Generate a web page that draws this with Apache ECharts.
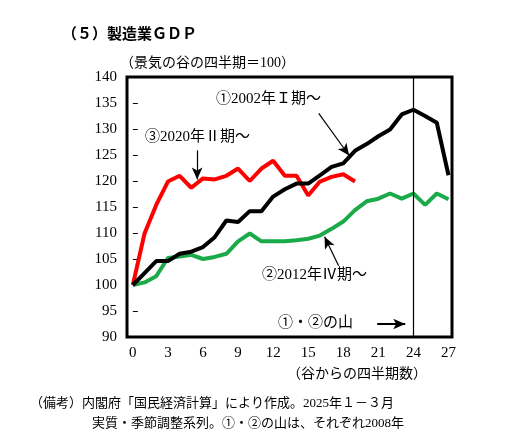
<!DOCTYPE html>
<html>
<head>
<meta charset="UTF-8">
<script src="https://cdn.jsdelivr.net/npm/echarts@6/dist/echarts.min.js"></script>
</head>
<body style="margin:0">
<div id="main" style="width:532px;height:434px;"></div>
<script type="text/javascript">
var quarters = [];
for (var q = 0; q <= 27; q++) quarters.push(q);
var s2002 = [100, 102.3, 104.6, 104.6, 106, 106.4, 107.3, 109.2, 112.4, 112.1, 114.2, 114.2, 117, 118.4, 119.5, 119.5, 121.1, 122.7, 123.4, 125.8, 127.1, 128.6, 129.9, 132.8, 133.7, 132.5, 131.2, 121.1];
var s2012 = [100, 100.5, 101.7, 105.2, 105.5, 105.8, 105, 105.4, 106, 108.4, 109.9, 108.4, 108.4, 108.4, 108.6, 108.9, 109.5, 110.8, 112.2, 114.4, 116.1, 116.6, 117.6, 116.6, 117.6, 115.4, 117.6, 116.5];
var s2020 = [100, 109.9, 115.4, 119.9, 121, 118.7, 120.5, 120.3, 121, 122.4, 120, 122.4, 123.9, 121, 121, 117.2, 119.9, 120.8, 121.3, 119.9];
var xTicks = [0, 3, 6, 9, 12, 15, 18, 21, 24, 27];

function pairs(arr) { return arr.map(function (v, i) { return [quarters[i], v]; }); }
var jp = '"Noto Sans CJK JP"';
var serif = '"Liberation Serif", ' + jp;

var myChart = echarts.init(document.getElementById('main'));
myChart.setOption({
    animation: false,
    grid: { left: 127, right: 80, top: 77, bottom: 97, show: true, borderColor: '#000', borderWidth: 3, backgroundColor: 'transparent' },
    xAxis: {
        type: 'value', min: -0.5, max: 27.3, interval: 3,
        axisLine: { show: false }, axisTick: { show: false }, splitLine: { show: false },
        axisLabel: {
            color: '#000', fontFamily: serif, fontSize: 15, margin: 9,
            customValues: xTicks,
            formatter: function (v) { return xTicks.indexOf(v) >= 0 ? v : ''; }
        }
    },
    yAxis: {
        type: 'value', min: 90, max: 140, interval: 5,
        axisLine: { show: false }, splitLine: { show: false },
        axisTick: { show: true, inside: true, length: 5, lineStyle: { color: '#000' } },
        axisLabel: { color: '#000', fontFamily: serif, fontSize: 15, margin: 10 }
    },
    graphic: [
        { type: 'text', left: 62, top: 26, style: { text: '（５）製造業ＧＤＰ', font: 'bold 15px ' + jp, fill: '#000' } },
        { type: 'text', left: 120, top: 56, style: { text: '（景気の谷の四半期＝100）', font: '14px ' + serif, fill: '#000' } },
        { type: 'text', left: 216, top: 92, style: { text: '①2002年Ｉ期～', font: '15px ' + serif, fill: '#000' } },
        { type: 'text', left: 145, top: 130, style: { text: '③2020年Ⅱ期～', font: '15px ' + serif, fill: '#000' } },
        { type: 'text', left: 262, top: 268, style: { text: '②2012年Ⅳ期～', font: '15px ' + serif, fill: '#000' } },
        { type: 'text', left: 278, top: 316, style: { text: '①・②の山', font: '15px ' + serif, fill: '#000' } },
        { type: 'text', left: 287, top: 367, style: { text: '（谷からの四半期数）', font: '14px ' + serif, fill: '#000' } },
        { type: 'text', left: 30, top: 397, style: { text: '（備考）内閣府「国民経済計算」により作成。2025年１－３月', font: '13px ' + serif, fill: '#000' } },
        { type: 'text', left: 92, top: 417, style: { text: '実質・季節調整系列。①・②の山は、それぞれ2008年', font: '13px ' + serif, fill: '#000' } }
    ],
    series: [
        { type: 'line', data: pairs(s2012), symbol: 'none', lineStyle: { color: '#1aaa4a', width: 4 } },
        { type: 'line', data: pairs(s2020), symbol: 'none', lineStyle: { color: '#ff0000', width: 4 } },
        { type: 'line', data: pairs(s2002), symbol: 'none', lineStyle: { color: '#000', width: 4 } },
        {
            type: 'line', data: [], silent: true,
            markLine: {
                silent: true, symbol: ['none', 'arrow'], symbolSize: [8, 12], label: { show: false },
                lineStyle: { color: '#000', width: 1.2, type: 'solid' },
                data: [
                    [{ coord: [15.9, 133] }, { coord: [18.5, 124.9] }],
                    [{ coord: [5.5, 125.9] }, { coord: [5.5, 120.3] }],
                    [{ coord: [17.6, 103.7] }, { coord: [16.4, 109.3] }],
                    [{ coord: [20.9, 92.5], lineStyle: { width: 2 } }, { coord: [23.3, 92.5] }],
                    [{ coord: [24, 90], symbol: 'none' }, { coord: [24, 140], symbol: 'none' }]
                ]
            }
        }
    ]
});
</script>
</body>
</html>
